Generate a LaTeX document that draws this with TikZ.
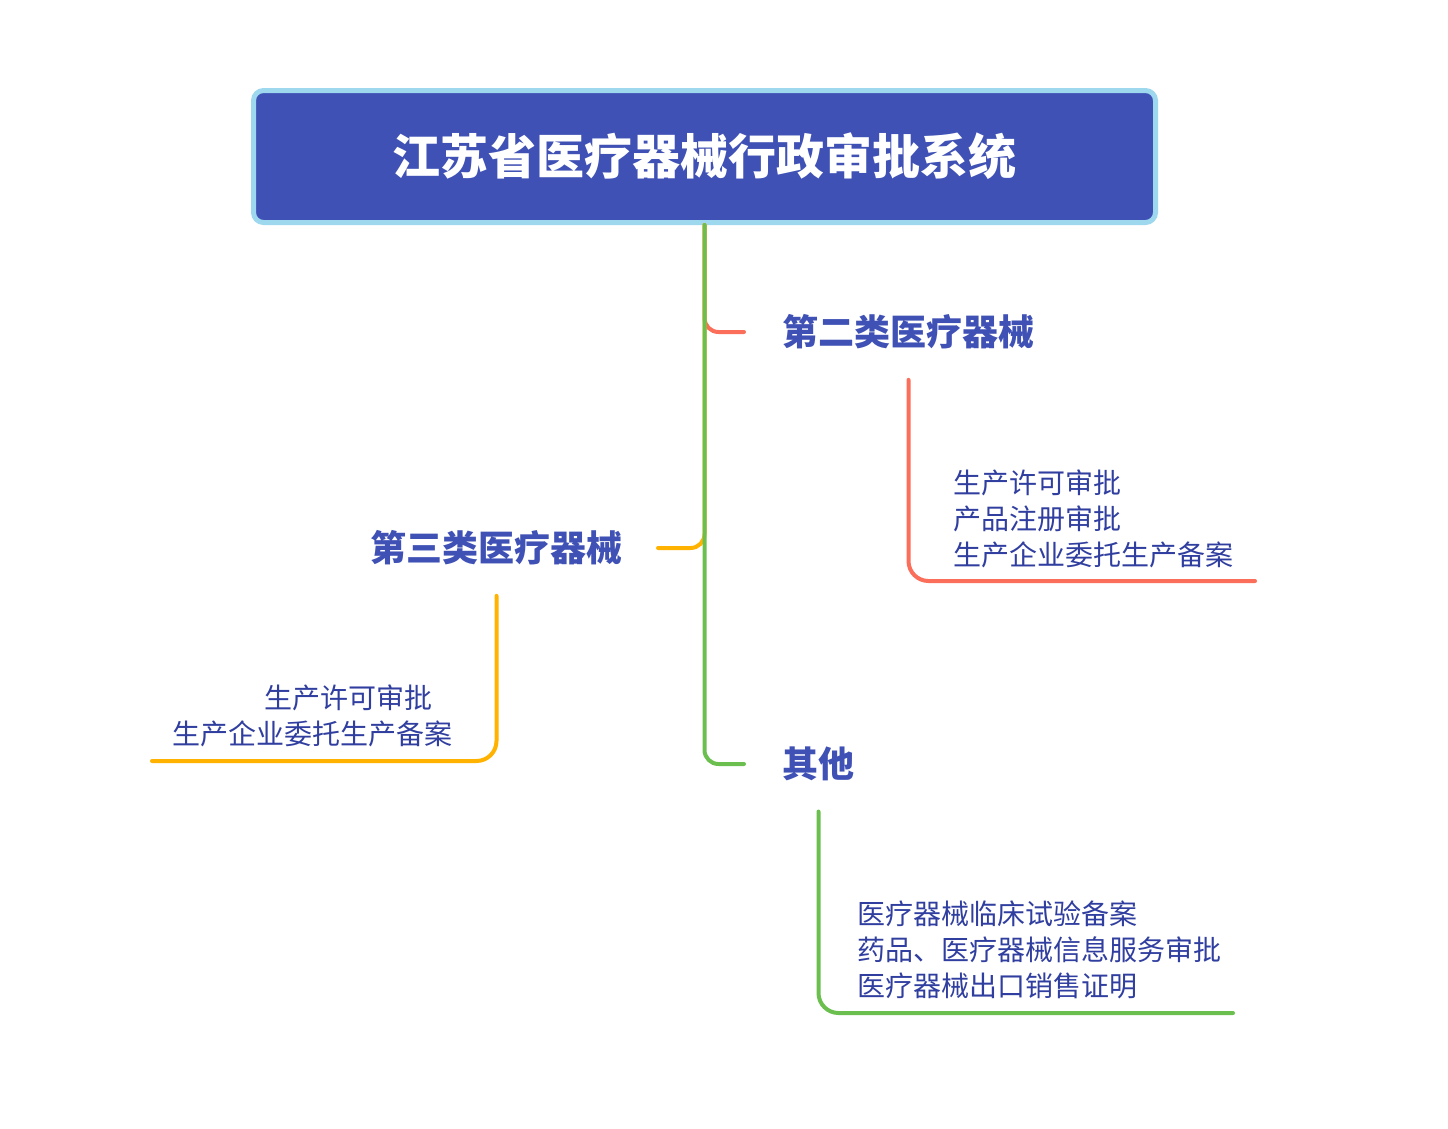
\documentclass[tikz,border=0pt]{standalone}
\usepackage{fontspec}
\newfontfamily\cjk{Noto Sans CJK SC}
\definecolor{rootfill}{HTML}{3F51B5}
\definecolor{rootedge}{HTML}{9ED8EF}
\definecolor{headblue}{HTML}{3F51B5}
\definecolor{leafblue}{HTML}{303F9F}
\definecolor{greenline}{HTML}{6BBF4E}
\definecolor{redline}{HTML}{FA6E5A}
\definecolor{orangeline}{HTML}{FFB300}
\begin{document}
\begin{tikzpicture}[x=1pt,y=-1pt]
\tikzstyle{root}=[draw=rootedge,line width=5pt,fill=rootfill,rounded corners=10pt,minimum width=902pt,minimum height=132pt,text=white,font=\cjk\bfseries\fontsize{48}{56}\selectfont]
\tikzstyle{head}=[text=headblue,font=\cjk\bfseries\fontsize{36}{42}\selectfont]
\tikzstyle{leaf}=[text=leafblue,align=left,inner sep=0pt,font=\cjk\fontsize{28}{36}\selectfont]
\tikzstyle{branch}=[line width=4pt,line cap=round]

\useasboundingbox (0,0) rectangle (1448,1128);
\node[root] (root) at (704.5,156.5) {江苏省医疗器械行政审批系统};
\node[head] (second) at (908.5,332) {第二类医疗器械};
\node[head] (third) at (496.5,548) {第三类医疗器械};
\node[head] (other) at (818.5,764) {其他};

\node[leaf,anchor=west] (secondleaf) at (953,519) {生产许可审批\\产品注册审批\\生产企业委托生产备案};
\node[leaf,anchor=west] (thirdleaf) at (172,716) {\hspace*{92pt}生产许可审批\\生产企业委托生产备案};
\node[leaf,anchor=west] (otherleaf) at (857,950) {医疗器械临床试验备案\\药品、医疗器械信息服务审批\\医疗器械出口销售证明};

\coordinate (secondend) at (1255,581);
\coordinate (thirdend) at (152,761);
\coordinate (otherend) at (1233,1013);

% main branches
\draw[branch,redline,rounded corners=14pt] (root.south) |- ([xshift=-35pt]second.west);
\draw[branch,orangeline,rounded corners=14pt] (root.south) |- ([xshift=32pt]third.east);
\draw[branch,greenline,rounded corners=14pt] (root.south) |- ([xshift=-35pt]other.west);

% sub branches
\draw[branch,redline,rounded corners=20pt,shorten <=27pt] (second.south) |- (secondend);
\draw[branch,orangeline,rounded corners=20pt,shorten <=27pt] (third.south) |- (thirdend);
\draw[branch,greenline,rounded corners=20pt,shorten <=27pt] (other.south) |- (otherend);
\end{tikzpicture}
\end{document}
